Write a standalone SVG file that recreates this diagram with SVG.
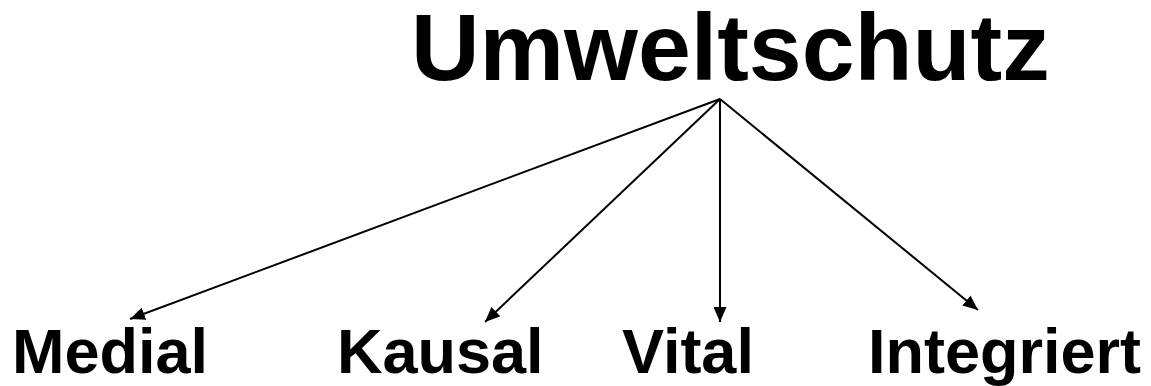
<svg xmlns="http://www.w3.org/2000/svg" width="1151" height="386" viewBox="0 0 1151 386">
<style>
text{font-family:"Liberation Sans",Arial,sans-serif;font-weight:bold;fill:#000}
.t{font-size:95px}
.l{font-size:63px}
.c{stroke:#000;stroke-width:2;fill:none;marker-end:url(#ah)}
</style>
<defs>
<marker id="ah" markerWidth="15" markerHeight="13" refX="15" refY="6.5" orient="auto" markerUnits="userSpaceOnUse" viewBox="0 0 15 13">
<path d="M0,0 L15,6.5 L0,13 z" fill="#000"/>
</marker>
</defs>
<rect width="1151" height="386" fill="#fff"/>
<g id="connectors">
<line class="c" x1="720" y1="99" x2="130" y2="319"/>
<line class="c" x1="720" y1="99" x2="485" y2="322"/>
<line class="c" x1="720" y1="99" x2="720" y2="322"/>
<line class="c" x1="720" y1="99" x2="978" y2="310"/>
</g>
<g id="umweltschutz"><text class="t" x="411" y="80">Umweltschutz</text></g>
<g id="medial"><text class="l" x="12" y="373">Medial</text></g>
<g id="kausal"><text class="l" x="337" y="373">Kausal</text></g>
<g id="vital"><text class="l" x="622" y="373">Vital</text></g>
<g id="integriert"><text class="l" x="868" y="373">Integriert</text></g>
</svg>
